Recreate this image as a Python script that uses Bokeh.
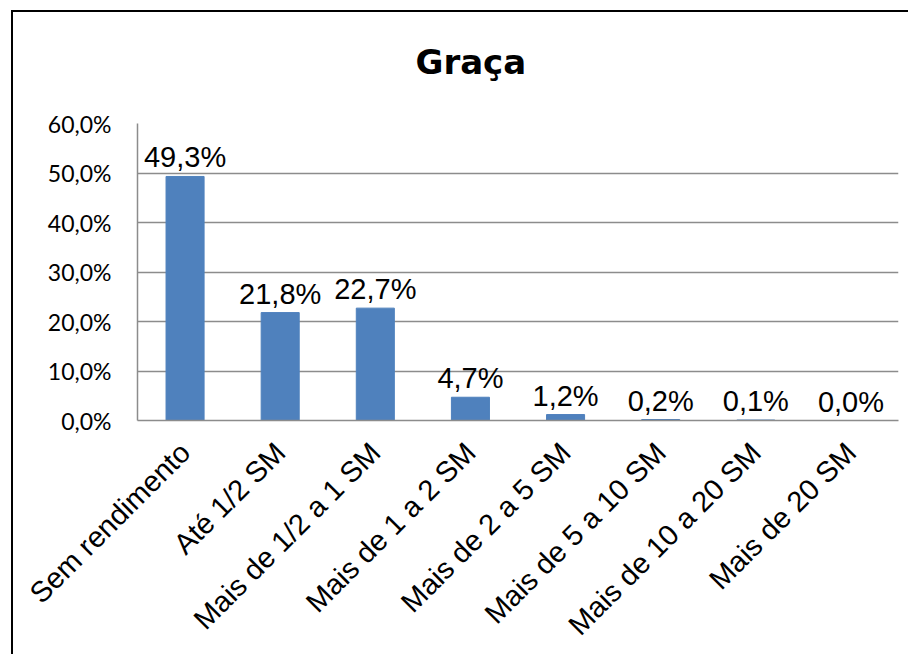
from bokeh.plotting import figure
from bokeh.models import ColumnDataSource, FixedTicker, Title
from bokeh.core.properties import value
from bokeh.embed import file_html
from bokeh.resources import INLINE
import math

categories = ["Sem rendimento", "Até 1/2 SM", "Mais de 1/2 a 1 SM", "Mais de 1 a 2 SM",
              "Mais de 2 a 5 SM", "Mais de 5 a 10 SM", "Mais de 10 a 20 SM", "Mais de 20 SM"]
values = [49.3, 21.8, 22.7, 4.7, 1.2, 0.2, 0.1, 0.0]
value_labels = ["49,3%", "21,8%", "22,7%", "4,7%", "1,2%", "0,2%", "0,1%", "0,0%"]
y_ticks = [0, 10, 20, 30, 40, 50, 60]
y_tick_labels = ["0,0%", "10,0%", "20,0%", "30,0%", "40,0%", "50,0%", "60,0%"]
title_text = "Graça"

src = ColumnDataSource(dict(cat=categories, val=values, lab=value_labels))

W, H = 897, 644
p = figure(x_range=categories, y_range=(0, 60), width=W, height=H,
           output_backend="svg", toolbar_location=None,
           min_border_left=124, min_border_right=12, min_border_top=111, min_border_bottom=236)
p.styles = {"border-top": "2px solid black", "border-left": "2px solid black",
            "margin-left": "11px", "margin-top": "10px"}
p.outline_line_color = None
p.background_fill_color = "white"
p.border_fill_color = "white"

p.vbar(x="cat", top="val", width=0.4, source=src, color="#4F81BD")
p.text(x="cat", y="val", text="lab", source=src, text_align="center",
       text_baseline="alphabetic", y_offset=-19,
       text_font=value("Liberation Sans"), text_font_size="29px", text_color="black")

gray = "#8C8C8C"
p.xgrid.grid_line_color = None
p.ygrid.grid_line_color = gray
p.ygrid.grid_line_width = 1.5
p.ygrid.ticker = FixedTicker(ticks=y_ticks)

p.yaxis.ticker = FixedTicker(ticks=y_ticks)
p.yaxis.major_label_overrides = {t: l for t, l in zip(y_ticks, y_tick_labels)}
p.yaxis.major_tick_line_color = None
p.yaxis.minor_tick_line_color = None
p.yaxis.major_tick_out = 0
p.yaxis.major_label_standoff = 26
p.yaxis.axis_line_color = gray
p.yaxis.axis_line_width = 1.5
p.yaxis.major_label_text_font = "Lato"
p.yaxis.major_label_text_font_size = "23px"
p.yaxis.major_label_text_color = "black"

p.xaxis.major_label_orientation = math.pi / 4
p.xaxis.major_tick_line_color = None
p.xaxis.major_tick_out = 0
p.xaxis.major_label_standoff = 27
p.xaxis.axis_line_color = gray
p.xaxis.axis_line_width = 1.5
p.xaxis.major_label_text_font = "Liberation Sans"
p.xaxis.major_label_text_font_size = "29px"
p.xaxis.major_label_text_color = "black"

# spacer panel between the frame and the title (closest to the frame)
spacer = Title(text=" ", standoff=29, text_font_size="10px", text_color="white")
p.add_layout(spacer, "above")
p.title = Title(text=title_text, align="left", offset=278, standoff=0,
                text_font="DejaVu Sans", text_font_style="bold", text_font_size="34px",
                text_color="black")
p.title_location = "above"

open("out.html", "w").write(file_html(p, INLINE))
